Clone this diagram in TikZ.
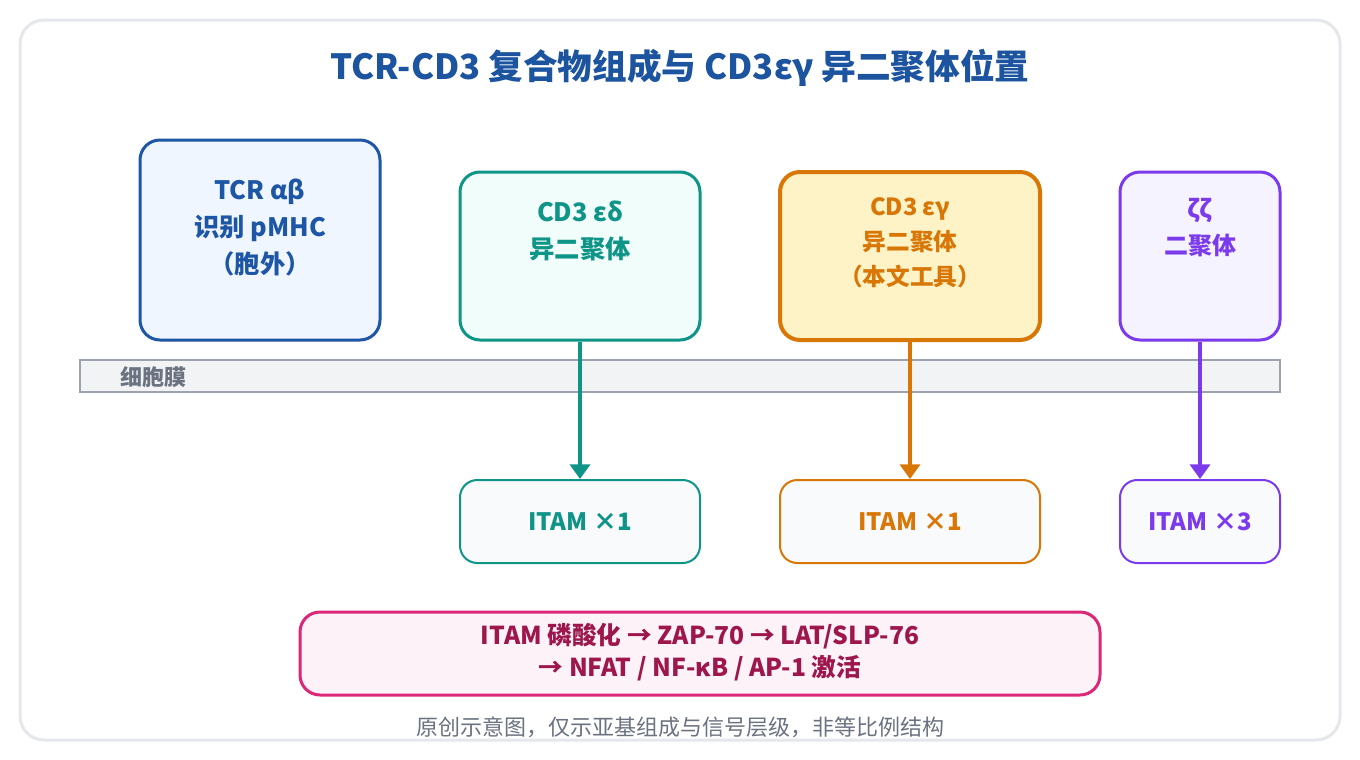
\documentclass[tikz,border=0pt]{standalone}
\usepackage{fontspec}
\setmainfont{Noto Sans CJK SC}
\usetikzlibrary{arrows.meta}
\definecolor{titleblue}{HTML}{1C54A0}
\definecolor{tcrblue}{HTML}{1E56A6}
\definecolor{tcrfill}{HTML}{EFF6FF}
\definecolor{teal}{HTML}{0F9488}
\definecolor{tealfill}{HTML}{F0FDFA}
\definecolor{orng}{HTML}{D97706}
\definecolor{orngfill}{HTML}{FEF3C7}
\definecolor{purp}{HTML}{7C3AED}
\definecolor{purpfill}{HTML}{F5F3FF}
\definecolor{itamfill}{HTML}{F8FAFC}
\definecolor{pink}{HTML}{DB2777}
\definecolor{pinkfill}{HTML}{FDF2F8}
\definecolor{pinktext}{HTML}{9D174D}
\definecolor{memfill}{HTML}{F1F3F5}
\definecolor{memline}{HTML}{9CA3AF}
\definecolor{graytext}{HTML}{6B7280}
\definecolor{frameline}{HTML}{E5E7EB}
\tikzset{
  x=0.75pt, y=-0.75pt,
  bigbox/.style={draw, line width=2.25pt, rounded corners=15pt, inner sep=0pt},
  itambox/.style={draw, line width=1.5pt, rounded corners=13pt, inner sep=0pt, fill=itamfill, minimum height=62.25pt, font=\bfseries\fontsize{18}{20}\selectfont},
  boxtext/.style={align=center, font=\bfseries\fontsize{18.5}{27.75}\selectfont, inner sep=0pt},
  link/.style={line width=3pt, -{Triangle[length=11pt,width=15pt]}},
}
\begin{document}
\begin{tikzpicture}
\useasboundingbox (0,0) rectangle (1360,760);
\fill[white] (0,0) rectangle (1360,760);
\draw[frameline, line width=2.25pt, rounded corners=18pt] (20,20) rectangle (1340,740);
\node[titleblue, font=\bfseries\fontsize{26}{30}\selectfont] (title) at (680,68) {TCR-CD3 复合物组成与 CD3εγ 异二聚体位置};

% membrane
\node[draw=memline, fill=memfill, line width=1.5pt, minimum width=900pt, minimum height=24pt, inner sep=0pt] (mem) at (680,376) {};
\node[graytext, font=\bfseries\fontsize{16.5}{18}\selectfont, inner sep=0pt] (memlab) at (153,377) {细胞膜};

% top boxes
\node[bigbox, draw=tcrblue, fill=tcrfill, minimum width=180pt, minimum height=150pt] (tcr) at (260,240) {};
\node[boxtext, tcrblue, font=\bfseries\fontsize{19}{28}\selectfont] (tcrtxt) at (260,227.5) {TCR αβ\\识别 pMHC\\（胞外）};

\node[bigbox, draw=teal, fill=tealfill, minimum width=180pt, minimum height=126pt] (ed) at (580,256) {};
\node[boxtext, teal, font=\bfseries\fontsize{19}{27.75}\selectfont] (edtxt) at (580,230.5) {CD3 εδ\\异二聚体};

\node[bigbox, draw=orng, fill=orngfill, line width=3pt, minimum width=195pt, minimum height=126pt] (eg) at (910,256) {};
\node[boxtext, orng, font=\bfseries\fontsize{17.75}{26.25}\selectfont] (egtxt) at (910,243) {CD3 εγ\\异二聚体\\（本文工具）};

\node[bigbox, draw=purp, fill=purpfill, minimum width=120pt, minimum height=126pt] (zz) at (1200,256) {};
\node[boxtext, purp, font=\bfseries\fontsize{18}{27.75}\selectfont] (zztxt) at (1200,227.5) {ζζ\\二聚体};

% ITAM boxes
\node[itambox, draw=teal, text=teal, minimum width=180pt] (ied) at (580,521.5) {ITAM ×1};
\node[itambox, draw=orng, text=orng, minimum width=195pt] (ieg) at (910,521.5) {ITAM ×1};
\node[itambox, draw=purp, text=purp, minimum width=120pt] (izz) at (1200,521.5) {ITAM ×3};

% arrows
\draw[link, teal] (ed.south) -- (ied.north);
\draw[link, orng] (eg.south) -- (ieg.north);
\draw[link, purp] (zz.south) -- (izz.north);

% signalling box
\node[draw=pink, fill=pinkfill, line width=2.25pt, rounded corners=15pt, minimum width=600pt, minimum height=62.25pt, inner sep=0pt] (sig) at (700,653.5) {};
\node[pinktext, align=center, font=\bfseries\fontsize{18.5}{24}\selectfont, inner sep=0pt] (sigtxt) at (700,652) {ITAM 磷酸化 → ZAP-70 → LAT/SLP-76\\→ NFAT / NF-κB / AP-1 激活};

% caption
\node[graytext, font=\fontsize{16.5}{20}\selectfont, inner sep=0pt] (cap) at (680,727) {原创示意图，仅示亚基组成与信号层级，非等比例结构};
\end{tikzpicture}
\end{document}
